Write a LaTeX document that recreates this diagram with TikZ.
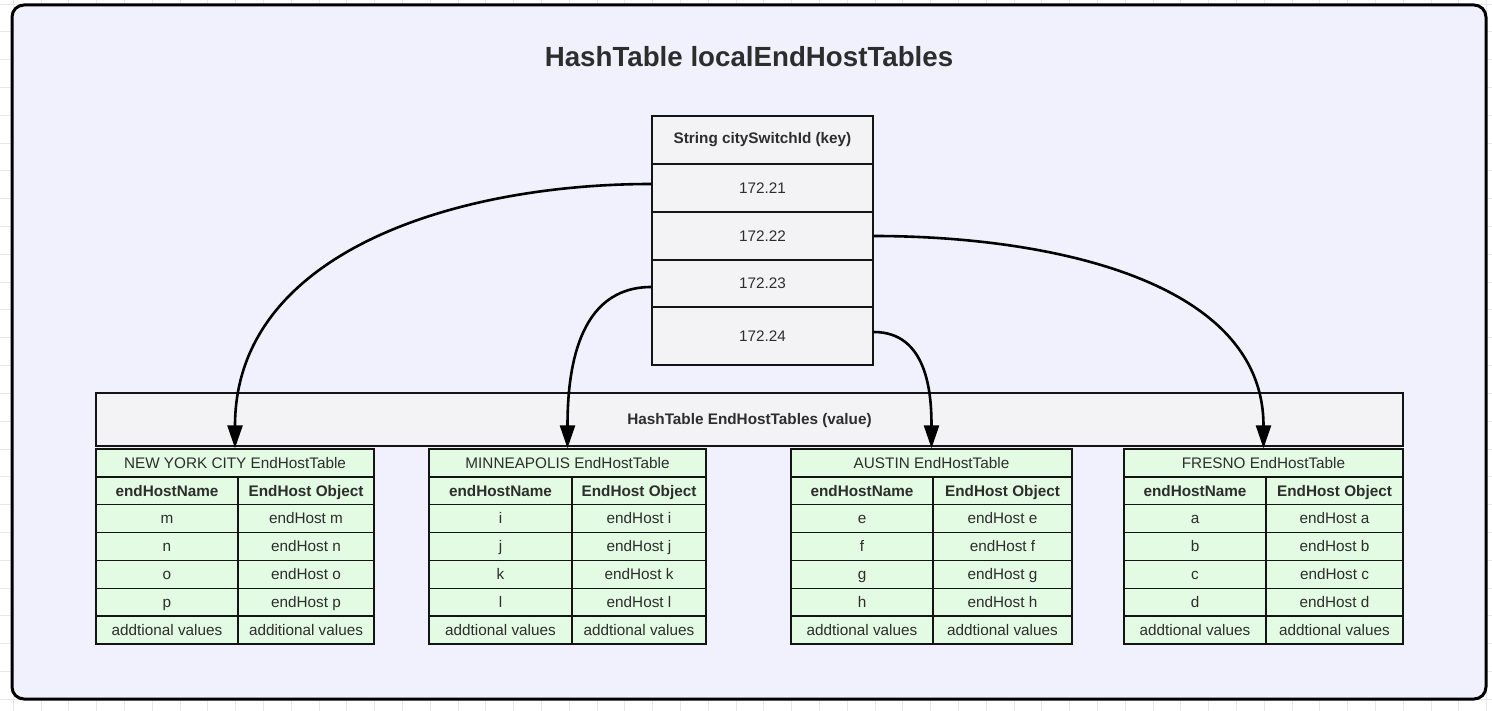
\documentclass[tikz,border=0pt]{standalone}
\usepackage{fontspec}
\setmainfont{Liberation Sans}
\usetikzlibrary{arrows.meta}
\definecolor{outerfill}{RGB}{241,241,254}
\definecolor{keyfill}{RGB}{243,243,246}
\definecolor{greenfill}{RGB}{227,250,227}
\definecolor{textc}{RGB}{45,45,45}
\definecolor{linec}{RGB}{20,20,20}
\definecolor{gridc}{RGB}{232,232,232}
\newcommand\hosttable[6]{%
  \pgfmathsetmacro\xa{(#2+#3)/2}%
  \pgfmathsetmacro\xb{(#3+#4)/2}%
  \node[cell,fill=greenfill,minimum width={#4-#2},minimum height=27.86] (#1-t) at ({(#2+#4)/2},462.93) {#5};
  \node[cell,hdr,fill=greenfill,minimum width={#3-#2},minimum height=27.86] (#1-ha) at (\xa,490.79) {endHostName};
  \node[cell,hdr,fill=greenfill,minimum width={#4-#3},minimum height=27.86] (#1-hb) at (\xb,490.79) {EndHost Object};
  \foreach \a/\b [count=\i from 2] in {#6} {
    \node[cell,fill=greenfill,minimum width={#3-#2},minimum height=27.86] (#1-\i a) at (\xa,{449+27.86*(\i+0.5)}) {\a};
    \node[cell,fill=greenfill,minimum width={#4-#3},minimum height=27.86] (#1-\i b) at (\xb,{449+27.86*(\i+0.5)}) {\b};
  }
}
\begin{document}
\begin{tikzpicture}[x=1pt,y=-1pt,
  cell/.style={draw=linec,line width=1.4pt,inner sep=0pt,text=textc,text height=12.3pt,text depth=1.7pt,font=\fontsize{15.3}{18}\selectfont},
  hdr/.style={font=\fontsize{15.3}{18}\selectfont\bfseries},
  keycell/.style={cell,fill=keyfill,minimum width=221},
  conn/.style={draw=black,line width=2.6pt,-{Triangle[length=23pt,width=15pt]}}]
\useasboundingbox (0,0) rectangle (1492,711);
\fill[white] (0,0) rectangle (1492,711);
% grid
\foreach \i in {0,...,53} \draw[gridc,line width=1pt] ({13.3+27.8*\i},0) -- ({13.3+27.8*\i},711);
\foreach \j in {0,...,25} \draw[gridc,line width=1pt] (0,{4.2+27.8*\j}) -- (1492,{4.2+27.8*\j});
% outer container
\draw[line width=3pt,fill=outerfill,rounded corners=12pt] (12,5) rectangle (1486,699);
\node[text=textc,font=\fontsize{27.7}{32}\selectfont\bfseries] (title) at (749,57) {HashTable localEndHostTables};
% key table
\node[keycell,hdr,minimum height=48,text height=11pt,text depth=3pt] (kh) at (762.5,140) {String citySwitchId (key)};
\node[keycell,minimum height=48] (k1) at (762.5,188) {172.21};
\node[keycell,minimum height=48] (k2) at (762.5,236) {172.22};
\node[keycell,minimum height=47] (k3) at (762.5,283.5) {172.23};
\node[keycell,minimum height=58] (k4) at (762.5,336) {172.24};
% value bar
\node[cell,hdr,fill=keyfill,minimum width=1307,minimum height=53] (vbar) at (749.5,419.5) {HashTable EndHostTables (value)};
% end host tables
\hosttable{nyc}{96}{238}{374}{NEW YORK CITY EndHostTable}{m/endHost m,n/endHost n,o/endHost o,p/endHost p,addtional values/additional values}
\hosttable{min}{429}{572}{706}{MINNEAPOLIS EndHostTable}{i/endHost i,j/endHost j,k/endHost k,l/endHost l,addtional values/addtional values}
\hosttable{aus}{791}{933}{1072}{AUSTIN EndHostTable}{e/endHost e,f/endHost f,g/endHost g,h/endHost h,addtional values/addtional values}
\hosttable{fre}{1124}{1266}{1403}{FRESNO EndHostTable}{a/endHost a,b/endHost b,c/endHost c,d/endHost d,addtional values/addtional values}
% connectors
\draw[conn] ([yshift=4pt]k1.west) .. controls +(-196,0) and +(0,-196) .. (nyc-t.north);
\draw[conn] (k2.east) .. controls +(170,0) and +(0,-170) .. (fre-t.north);
\draw[conn] ([yshift=-3.5pt]k3.west) .. controls +(-75,0) and +(0,-75) .. (min-t.north);
\draw[conn] ([yshift=4pt]k4.east) .. controls +(54,0) and +(0,-54) .. (aus-t.north);
\end{tikzpicture}
\end{document}
